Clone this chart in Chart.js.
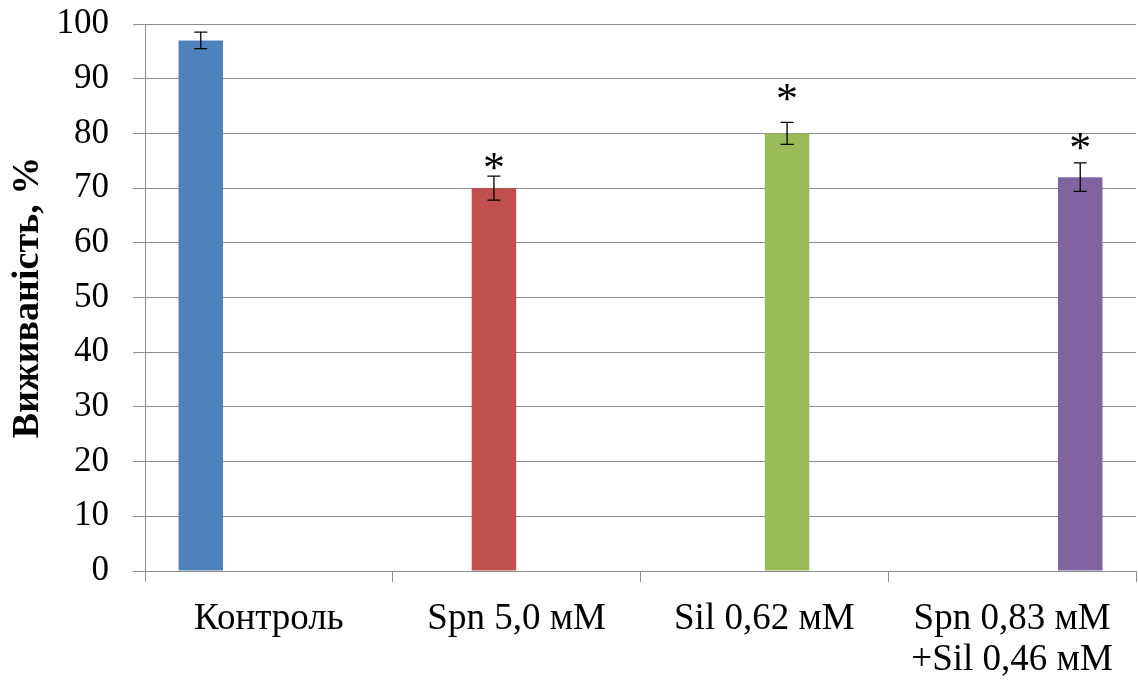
<!DOCTYPE html>
<html>
<head>
<meta charset="utf-8">
<script src="https://cdn.jsdelivr.net/npm/chart.js@4"></script>
<style>
  html, body { margin: 0; padding: 0; background: #fff; }
  #wrap { width: 1138px; height: 682px; position: relative; }
</style>
</head>
<body>
<div id="wrap"><canvas id="chart"></canvas></div>
<script>
// Дані
const categories = ["Контроль", "Spn 5,0 мМ", "Sil 0,62 мМ", ["Spn 0,83 мМ", "+Sil 0,46 мМ"]];
const survival = [97, 70, 80, 72];
const errors = [1.5, 2.2, 2.0, 2.6];
const significant = [false, true, true, true];
const starLevel = [null, 74.8, 87.5, 78.5];
const colors = ["#4F81BD", "#C0504D", "#9BBB59", "#8064A2"];

const serif = "'Liberation Serif', 'Times New Roman', serif";

// кожна група - окремий ряд, як в Excel
const datasets = survival.map((v, i) => ({
    label: "s" + i,
    data: survival.map((_, j) => (j === i ? v : null)),
    backgroundColor: colors[i],
    borderWidth: 0,
    barPercentage: 0.98,
    categoryPercentage: 0.733
}));

// похибки та зірочки
const errorBars = {
    id: "errorBars",
    afterDatasetsDraw(chart) {
        const ctx = chart.ctx;
        const y = chart.scales.y;
        ctx.save();
        ctx.strokeStyle = "#000";
        ctx.lineWidth = 1.3;
        survival.forEach((v, i) => {
            const bar = chart.getDatasetMeta(i).data[i];
            const x = bar.x;
            const top = y.getPixelForValue(v + errors[i]);
            const bot = y.getPixelForValue(v - errors[i]);
            ctx.beginPath();
            ctx.moveTo(x, top); ctx.lineTo(x, bot);
            ctx.moveTo(x - 6.5, top); ctx.lineTo(x + 6.5, top);
            ctx.moveTo(x - 6.5, bot); ctx.lineTo(x + 6.5, bot);
            ctx.stroke();
            if (significant[i]) {
                const size = 44;
                ctx.fillStyle = "#000";
                ctx.font = size + "px " + serif;
                ctx.textAlign = "center";
                ctx.textBaseline = "alphabetic";
                ctx.fillText("*", x, y.getPixelForValue(starLevel[i]) + size * 0.46);
            }
        });
        ctx.restore();
    }
};

new Chart(document.getElementById("chart"), {
    type: "bar",
    data: { labels: categories, datasets: datasets },
    options: {
        responsive: true,
        maintainAspectRatio: false,
        animation: false,
        layout: { padding: { top: 24, right: 2, left: 0, bottom: 0 } },
        plugins: {
            legend: { display: false },
            tooltip: { enabled: false }
        },
        scales: {
            x: {
                grid: {
                    offset: true,
                    drawOnChartArea: false,
                    color: "#8e8e8e",
                    tickLength: 11
                },
                border: { color: "#8e8e8e" },
                ticks: {
                    color: "#000",
                    padding: 17,
                    maxRotation: 0,
                    autoSkip: false,
                    font: { family: serif, size: 37, lineHeight: 1.1 }
                },
                afterFit(scale) { scale.height = 111; }
            },
            y: {
                min: 0,
                max: 100,
                ticks: {
                    stepSize: 10,
                    color: "#000",
                    padding: 24,
                    font: { family: serif, size: 35 }
                },
                grid: { color: "#8e8e8e", tickLength: 12 },
                border: { color: "#8e8e8e" },
                title: {
                    display: true,
                    text: "Виживаність, %",
                    color: "#000",
                    padding: { top: 5, bottom: 0 },
                    font: { family: serif, size: 38, weight: "bold" }
                },
                afterFit(scale) {
                    scale.width = 145;
                    scale.paddingTop = 0;
                    scale.paddingBottom = 0;
                }
            }
        }
    },
    plugins: [errorBars]
});
</script>
</body>
</html>
